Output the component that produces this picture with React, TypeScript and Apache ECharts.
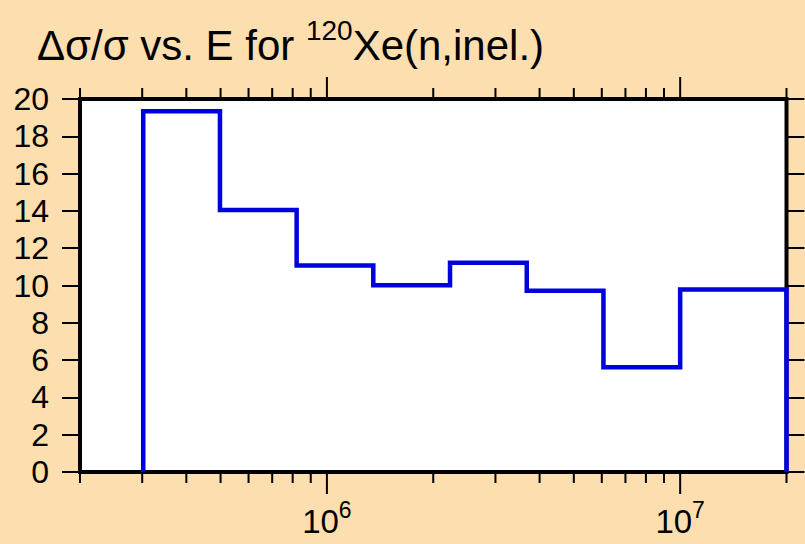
import React, { useEffect, useRef } from "react";
import * as echarts from "echarts";

// Bin edges (eV) of the histogram
const energyEdges = [3.02e5, 4.98e5, 8.21e5, 1.353e6, 2.231e6, 3.679e6, 6.065e6, 1.0e7, 2.0e7];
// Relative uncertainty (%) in each bin
const relUncertainty = [19.34, 14.05, 11.07, 10.02, 11.22, 9.72, 5.61, 9.78];

// Axis ranges and ticks
const xMin = 2e5;
const xMax = 2e7;
const xTicks = [
  2e5, 3e5, 4e5, 5e5, 6e5, 7e5, 8e5, 9e5,
  1e6, 2e6, 3e6, 4e6, 5e6, 6e6, 7e6, 8e6, 9e6,
  1e7, 2e7,
];
const xMajorTicks = [1e6, 1e7];
const yMin = 0;
const yMax = 20;
const yStep = 2;

const FONT = "'Liberation Sans', Arial, Helvetica, sans-serif";
const BG = "#fddeae";
const BLUE = "#0000e0";

export default function App() {
  const ref = useRef<HTMLDivElement>(null);

  useEffect(() => {
    if (!ref.current) return;
    const chart = echarts.init(ref.current, undefined, { renderer: "svg" });

    // Build histogram outline points from edges/values
    const stepPoints: [number, number][] = [[energyEdges[0], 0]];
    relUncertainty.forEach((v, i) => {
      stepPoints.push([energyEdges[i], v]);
      stepPoints.push([energyEdges[i + 1], v]);
    });
    stepPoints.push([energyEdges[energyEdges.length - 1], 0]);

    const tickData = xTicks.map((v) => [v, 0]);

    const option: any = {
      animation: false,
      backgroundColor: BG,
      title: {
        left: 37,
        top: 16,
        padding: 0,
        text: "{a|Δσ/σ vs. E for }{sup|120}{a|Xe(n,inel.)}",
        textStyle: {
          fontWeight: "normal",
          fontFamily: FONT,
          rich: {
            a: {
              fontFamily: FONT,
              fontWeight: "normal",
              fontSize: 42,
              color: "#000",
              lineHeight: 50,
              verticalAlign: "bottom",
            },
            sup: {
              fontFamily: FONT,
              fontWeight: "normal",
              fontSize: 28,
              color: "#000",
              lineHeight: 20,
              verticalAlign: "top",
            },
          },
        },
      },
      grid: {
        left: 80,
        right: 18.5,
        top: 99,
        bottom: 72,
        show: true,
        backgroundColor: "#ffffff",
        borderColor: "#000000",
        borderWidth: 4,
      },
      xAxis: {
        type: "log",
        logBase: 10,
        min: xMin,
        max: xMax,
        axisLine: { show: false },
        axisTick: { show: false },
        splitLine: { show: false },
        minorTick: { show: false },
        axisLabel: {
          margin: 26,
          showMinLabel: false,
          showMaxLabel: false,
          formatter: (v: number) => {
            const e = Math.log10(v);
            if (Math.abs(e - Math.round(e)) < 1e-6) {
              return `{b|10}{sup|${Math.round(e)}}`;
            }
            return "";
          },
          rich: {
            b: {
              fontFamily: FONT,
              fontSize: 33,
              color: "#000",
              lineHeight: 40,
              verticalAlign: "bottom",
            },
            sup: {
              fontFamily: FONT,
              fontSize: 23,
              color: "#000",
              lineHeight: 13,
              verticalAlign: "top",
            },
          },
        },
      },
      yAxis: [
        {
          type: "value",
          min: yMin,
          max: yMax,
          interval: yStep,
          position: "left",
          axisLine: { show: false },
          splitLine: { show: false },
          axisTick: {
            show: true,
            inside: false,
            length: 18,
            lineStyle: { color: "#000", width: 2 },
          },
          axisLabel: {
            margin: 31,
            fontFamily: FONT,
            fontSize: 32,
            color: "#000",
          },
        },
        {
          type: "value",
          min: yMin,
          max: yMax,
          interval: yStep,
          position: "right",
          axisLine: { show: false },
          splitLine: { show: false },
          axisTick: {
            show: true,
            inside: false,
            length: 18,
            lineStyle: { color: "#000", width: 2 },
          },
          axisLabel: { show: false },
        },
      ],
      series: [
        {
          type: "line",
          data: stepPoints,
          xAxisIndex: 0,
          yAxisIndex: 0,
          symbol: "none",
          clip: false,
          lineStyle: { color: BLUE, width: 4.5, join: "miter", cap: "butt" },
          z: 3,
        },
        {
          type: "custom",
          data: tickData,
          xAxisIndex: 0,
          yAxisIndex: 0,
          clip: false,
          silent: true,
          encode: { x: 0, y: 1 },
          renderItem: (params: any, api: any) => {
            const val = api.value(0);
            const x = api.coord([val, 0])[0];
            const cs = params.coordSys;
            const top = cs.y;
            const bottom = cs.y + cs.height;
            const major = xMajorTicks.some((m) => Math.abs(m - val) / m < 1e-9);
            const len = major ? 22 : 11;
            const style = { stroke: "#000", lineWidth: 2 };
            return {
              type: "group",
              children: [
                {
                  type: "line",
                  shape: { x1: x, y1: bottom, x2: x, y2: bottom + len },
                  style,
                },
                {
                  type: "line",
                  shape: { x1: x, y1: top, x2: x, y2: top - len },
                  style,
                },
              ],
            };
          },
          z: 1,
        },
      ],
    };

    chart.setOption(option);
    return () => chart.dispose();
  }, []);

  return (
    <div
      ref={ref}
      style={{ position: "fixed", left: 0, top: 0, width: 805, height: 544 }}
    />
  );
}
